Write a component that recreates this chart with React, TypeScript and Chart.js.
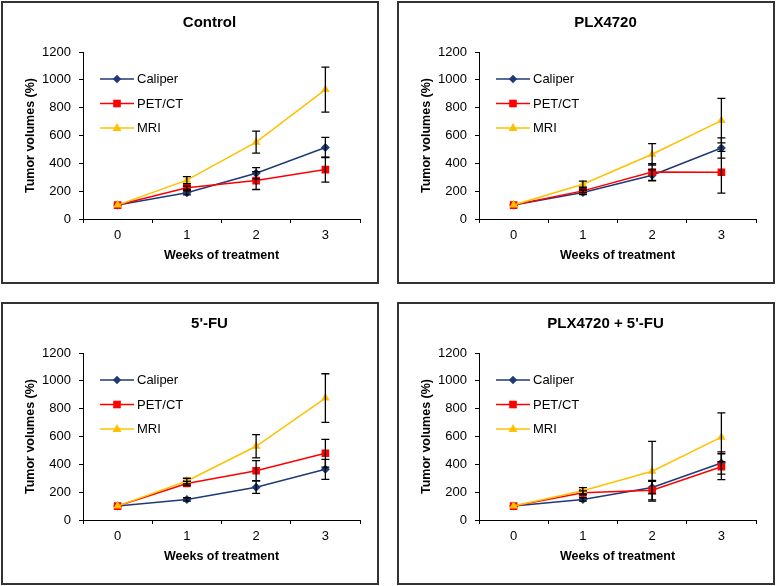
import React, { useEffect, useRef } from 'react';
import { Chart, registerables } from 'chart.js';

Chart.register(...registerables);

// ---------- data ----------
const weeks = ['0', '1', '2', '3'];
const seriesNames = ['Caliper', 'PET/CT', 'MRI'];
const seriesColors = ['#1F3A78', '#FF0000', '#FFC000'];
const seriesMarkers = ['diamond', 'square', 'triangle'];
const panelTitles = ['Control', 'PLX4720', "5'-FU", "PLX4720 + 5'-FU"];
const yAxisTitle = 'Tumor volumes (%)';
const xAxisTitle = 'Weeks of treatment';
const yMin = 0;
const yMax = 1200;
const yStep = 200;

// Control
const caliperControl = [100, 188, 329, 514];
const caliperControlErr = [0, 15, 40, 72];
const petControl = [100, 224, 276, 355];
const petControlErr = [0, 12, 64, 90];
const mriControl = [100, 279, 552, 930];
const mriControlErr = [0, 25, 79, 162];

// PLX4720
const caliperPlx = [100, 190, 314, 510];
const caliperPlxErr = [0, 15, 40, 73];
const petPlx = [100, 202, 338, 336];
const petPlxErr = [0, 12, 60, 150];
const mriPlx = [100, 250, 465, 707];
const mriPlxErr = [0, 22, 77, 160];

// 5'-FU
const caliperFu = [100, 148, 236, 364];
const caliperFuErr = [0, 12, 45, 72];
const petFu = [100, 262, 354, 480];
const petFuErr = [0, 15, 72, 100];
const mriFu = [100, 280, 530, 876];
const mriFuErr = [0, 20, 84, 175];

// PLX4720 + 5'-FU
const caliperCombo = [100, 148, 233, 410];
const caliperComboErr = [0, 12, 45, 80];
const petCombo = [100, 195, 214, 383];
const petComboErr = [0, 15, 70, 93];
const mriCombo = [100, 210, 350, 595];
const mriComboErr = [0, 22, 215, 175];

const panelValues = [
  [caliperControl, petControl, mriControl],
  [caliperPlx, petPlx, mriPlx],
  [caliperFu, petFu, mriFu],
  [caliperCombo, petCombo, mriCombo],
];
const panelErrors = [
  [caliperControlErr, petControlErr, mriControlErr],
  [caliperPlxErr, petPlxErr, mriPlxErr],
  [caliperFuErr, petFuErr, mriFuErr],
  [caliperComboErr, petComboErr, mriComboErr],
];

// ---------- styling ----------
const FONT = '"Liberation Sans", Arial, Helvetica, sans-serif';
const CANVAS_W = 374;
const CANVAS_H = 279;

function drawMarker(ctx: CanvasRenderingContext2D, kind: string, x: number, y: number, color: string) {
  ctx.save();
  ctx.fillStyle = color;
  ctx.beginPath();
  if (kind === 'diamond') {
    const r = 4.2;
    ctx.moveTo(x, y - r);
    ctx.lineTo(x + r, y);
    ctx.lineTo(x, y + r);
    ctx.lineTo(x - r, y);
    ctx.closePath();
  } else if (kind === 'square') {
    const s = 3.8;
    ctx.rect(x - s, y - s, 2 * s, 2 * s);
  } else {
    const r = 5;
    ctx.moveTo(x, y - r);
    ctx.lineTo(x + r * 0.9, y + r * 0.6);
    ctx.lineTo(x - r * 0.9, y + r * 0.6);
    ctx.closePath();
  }
  ctx.fill();
  ctx.restore();
}

const errorBarPlugin = {
  id: 'errorBars',
  afterDatasetsDraw(chart: any) {
    const ctx = chart.ctx;
    const yScale = chart.scales.y;
    ctx.save();
    ctx.strokeStyle = '#000';
    ctx.lineWidth = 1.3;
    chart.data.datasets.forEach((ds: any, di: number) => {
      const meta = chart.getDatasetMeta(di);
      const errs: number[] = ds.errors || [];
      ds.data.forEach((v: number, i: number) => {
        const e = errs[i];
        if (!e) return;
        const x = meta.data[i].x;
        const yt = yScale.getPixelForValue(v + e);
        const yb = yScale.getPixelForValue(v - e);
        ctx.beginPath();
        ctx.moveTo(x, yt);
        ctx.lineTo(x, yb);
        ctx.moveTo(x - 4, yt);
        ctx.lineTo(x + 4, yt);
        ctx.moveTo(x - 4, yb);
        ctx.lineTo(x + 4, yb);
        ctx.stroke();
      });
    });
    ctx.restore();
  },
};

const legendPlugin = {
  id: 'innerLegend',
  afterDraw(chart: any) {
    const ctx = chart.ctx;
    const area = chart.chartArea;
    ctx.save();
    seriesNames.forEach((name, i) => {
      const y = area.top + 27 + 24.5 * i;
      const x0 = area.left + 17;
      const x1 = area.left + 51;
      ctx.strokeStyle = seriesColors[i];
      ctx.lineWidth = 1.5;
      ctx.beginPath();
      ctx.moveTo(x0, y);
      ctx.lineTo(x1, y);
      ctx.stroke();
      drawMarker(ctx, seriesMarkers[i], (x0 + x1) / 2, y, seriesColors[i]);
      ctx.fillStyle = '#000';
      ctx.font = `13px ${FONT}`;
      ctx.textAlign = 'left';
      ctx.textBaseline = 'middle';
      ctx.fillText(name, x1 + 3, y + 0.5);
    });
    ctx.restore();
  },
};

const panelTitlePlugin = {
  id: 'panelTitle',
  afterDraw(chart: any) {
    const ctx = chart.ctx;
    const area = chart.chartArea;
    const text = chart.options.plugins.panelTitle.text;
    ctx.save();
    ctx.fillStyle = '#000';
    ctx.font = `bold 15px ${FONT}`;
    ctx.textAlign = 'center';
    ctx.textBaseline = 'middle';
    ctx.fillText(text, (area.left + area.right) / 2 - 12, 20);
    ctx.restore();
  },
};

function Panel({ index }: { index: number }) {
  const ref = useRef<HTMLCanvasElement | null>(null);
  useEffect(() => {
    if (!ref.current) return;
    const values = panelValues[index];
    const errors = panelErrors[index];
    const drawOrder = [2, 1, 0];
    const chart = new Chart(ref.current, {
      type: 'line',
      data: {
        labels: weeks,
        datasets: seriesNames.map((name, i) => ({
          label: name,
          data: values[i],
          errors: errors[i],
          borderColor: seriesColors[i],
          backgroundColor: seriesColors[i],
          borderWidth: 1.5,
          pointStyle: i === 0 ? 'rectRot' : i === 1 ? 'rect' : 'triangle',
          pointRadius: i === 0 ? 4.5 : i === 1 ? 5.4 : 5,
          pointBorderWidth: 0,
          pointBackgroundColor: seriesColors[i],
          pointBorderColor: seriesColors[i],
          tension: 0,
          fill: false,
          order: drawOrder[i],
        })) as any,
      },
      options: {
        animation: false,
        responsive: false,
        maintainAspectRatio: false,
        devicePixelRatio: 1,
        events: [],
        layout: { padding: { top: 49, right: 17, left: 0, bottom: 0 } },
        plugins: {
          legend: { display: false },
          tooltip: { enabled: false },
          title: { display: false },
          panelTitle: { text: panelTitles[index] },
        } as any,
        scales: {
          x: {
            type: 'category',
            offset: true,
            grid: {
              display: true,
              offset: true,
              drawOnChartArea: false,
              drawTicks: true,
              tickLength: 4,
              tickColor: '#000',
              tickWidth: 1,
            },
            border: { display: true, color: '#000', width: 1 },
            ticks: { color: '#000', font: { family: FONT, size: 13 }, padding: 5, maxRotation: 0 },
            title: {
              display: true,
              text: xAxisTitle,
              color: '#000',
              font: { family: FONT, size: 12.5, weight: 'bold' },
              padding: { top: 0, bottom: 19 },
            },
            afterFit: (s: any) => {
              s.height = 63;
            },
          },
          y: {
            min: yMin,
            max: yMax,
            grid: {
              display: true,
              drawOnChartArea: false,
              drawTicks: true,
              tickLength: 4,
              tickColor: '#000',
              tickWidth: 1,
            },
            border: { display: true, color: '#000', width: 1 },
            ticks: {
              stepSize: yStep,
              color: '#000',
              font: { family: FONT, size: 13 },
              padding: 8,
              callback: (v: any) => String(v),
            },
            title: {
              display: true,
              text: yAxisTitle,
              color: '#000',
              font: { family: FONT, size: 12.5, weight: 'bold' },
              padding: { top: 20, bottom: 0 },
            },
            afterFit: (s: any) => {
              s.width = 80;
            },
          },
        } as any,
      },
      plugins: [errorBarPlugin, legendPlugin, panelTitlePlugin],
    });
    return () => chart.destroy();
  }, [index]);
  return <canvas ref={ref} width={CANVAS_W} height={CANVAS_H} style={{ display: 'block', width: CANVAS_W, height: CANVAS_H }} />;
}

const boxPositions = [
  { left: 1, top: 1 },
  { left: 397, top: 1 },
  { left: 1, top: 302 },
  { left: 397, top: 302 },
];

export default function App() {
  return (
    <div style={{ position: 'absolute', left: 0, top: 0, width: 776, height: 586, background: '#fff', overflow: 'hidden' }}>
      {boxPositions.map((p, i) => (
        <div
          key={i}
          style={{
            position: 'absolute',
            left: p.left,
            top: p.top,
            width: CANVAS_W,
            height: CANVAS_H,
            border: '2px solid #333',
            background: '#fff',
          }}
        >
          <Panel index={i} />
        </div>
      ))}
    </div>
  );
}
